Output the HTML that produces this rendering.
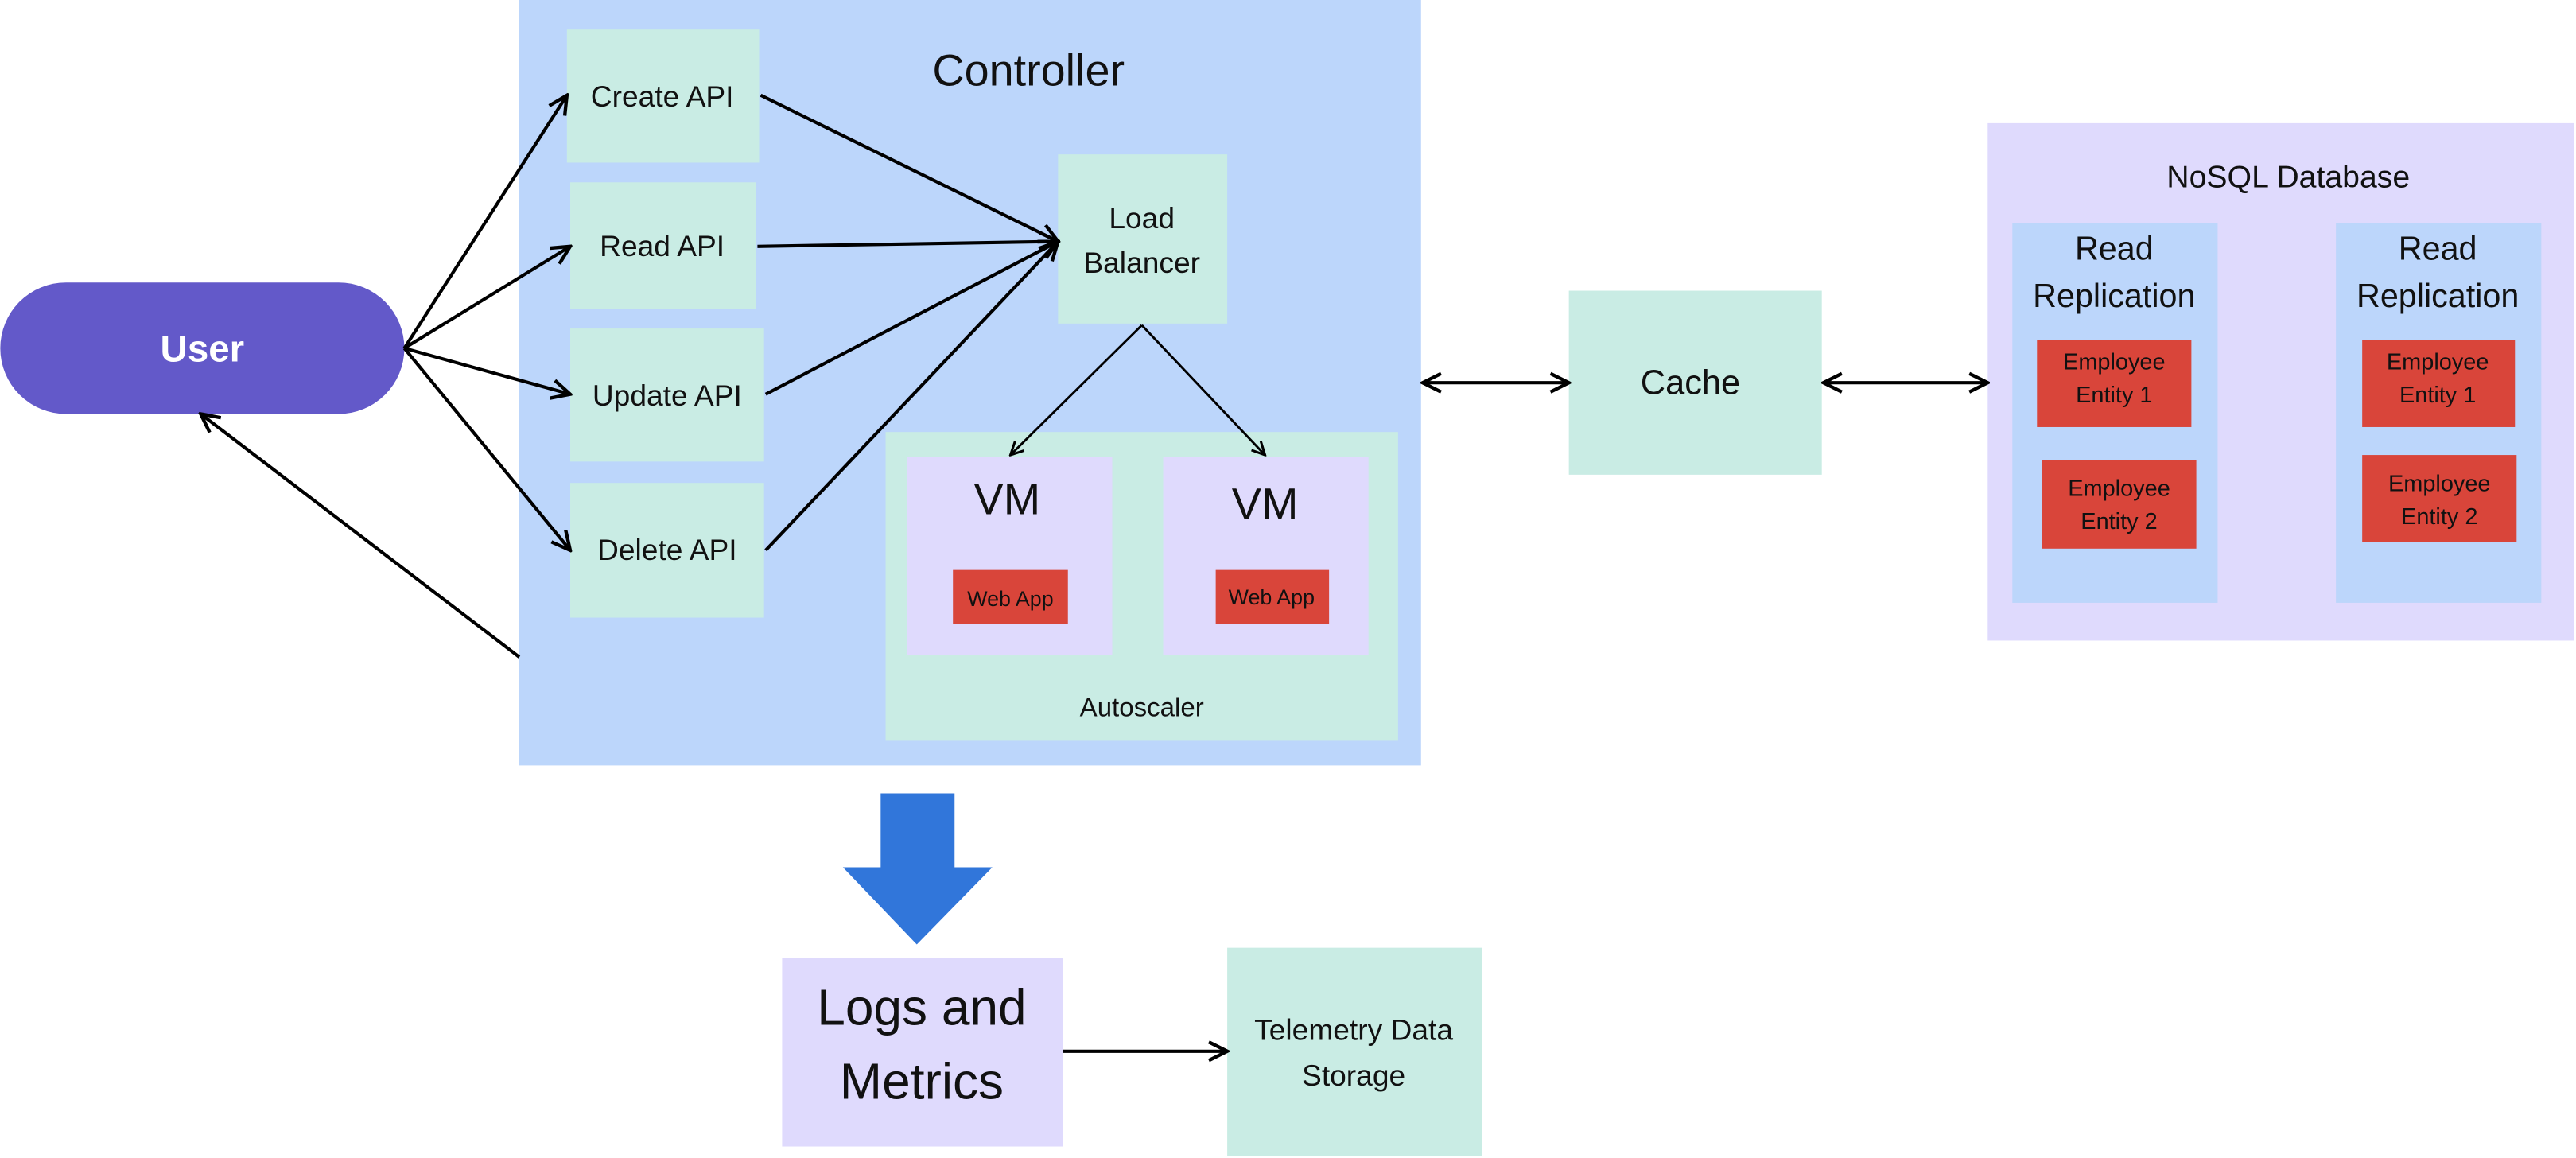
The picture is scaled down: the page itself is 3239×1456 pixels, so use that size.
<!DOCTYPE html>
<html><head><meta charset="utf-8"><style>
html,body{margin:0;padding:0;background:#fff;}
svg{display:block;}
text{font-family:"Liberation Sans",sans-serif;fill:#111;}
</style></head><body>
<svg width="3239" height="1456" viewBox="0 0 1568 705" xmlns="http://www.w3.org/2000/svg">
<defs>
<marker id="a" viewBox="0 0 10 10" refX="9" refY="5" markerWidth="7" markerHeight="7" orient="auto-start-reverse">
<path d="M1,1 L9,5 L1,9" fill="none" stroke="#000" stroke-width="1.5"/>
</marker>
</defs>
<rect width="1568" height="705" fill="#fff"/>
<!-- Controller -->
<rect x="316" y="0" width="549" height="466" fill="#bcd6fb"/>
<text x="626" y="52" font-size="27" text-anchor="middle">Controller</text>
<g fill="#c9ece4">
<rect x="345" y="18" width="117" height="81"/>
<rect x="347" y="111" width="113" height="77"/>
<rect x="347" y="200" width="118" height="81"/>
<rect x="347" y="294" width="118" height="82"/>
<rect x="644" y="94" width="103" height="103"/>
<rect x="539" y="263" width="312" height="188"/>
<rect x="955" y="177" width="154" height="112"/>
<rect x="747" y="577" width="155" height="127"/>
</g>
<g font-size="18" text-anchor="middle">
<text x="403" y="65">Create API</text>
<text x="403" y="156">Read API</text>
<text x="406" y="247">Update API</text>
<text x="406" y="341">Delete API</text>
<text x="695" y="139">Load</text>
<text x="695" y="166">Balancer</text>
<text x="695" y="436" font-size="16">Autoscaler</text>
<text x="1029" y="240" font-size="21">Cache</text>
<text x="824" y="633">Telemetry Data</text>
<text x="824" y="661">Storage</text>
</g>
<g fill="#dfdafd">
<rect x="552" y="278" width="125" height="121"/>
<rect x="708" y="278" width="125" height="121"/>
<rect x="476" y="583" width="171" height="115"/>
<rect x="1210" y="75" width="357" height="315"/>
</g>
<g fill="#bcd6fb">
<rect x="1225" y="136" width="125" height="231"/>
<rect x="1422" y="136" width="125" height="231"/>
</g>
<g fill="#d9453a">
<rect x="580" y="347" width="70" height="33"/>
<rect x="740" y="347" width="69" height="33"/>
<rect x="1240" y="207" width="94" height="53"/>
<rect x="1243" y="280" width="94" height="54"/>
<rect x="1438" y="207" width="93" height="53"/>
<rect x="1438" y="277" width="94" height="53"/>
</g>
<g text-anchor="middle">
<text x="613" y="313" font-size="27">VM</text>
<text x="770" y="316" font-size="27">VM</text>
<text x="615" y="369" font-size="13">Web App</text>
<text x="774" y="368" font-size="13">Web App</text>
<text x="561" y="624" font-size="31">Logs and</text>
<text x="561" y="669" font-size="31">Metrics</text>
<text x="1393" y="114" font-size="19">NoSQL Database</text>
<text x="1287" y="158" font-size="20">Read</text>
<text x="1287" y="187" font-size="20">Replication</text>
<text x="1484" y="158" font-size="20">Read</text>
<text x="1484" y="187" font-size="20">Replication</text>
<text x="1287" y="225" font-size="14">Employee</text>
<text x="1287" y="245" font-size="14">Entity 1</text>
<text x="1290" y="302" font-size="14">Employee</text>
<text x="1290" y="322" font-size="14">Entity 2</text>
<text x="1484" y="225" font-size="14">Employee</text>
<text x="1484" y="245" font-size="14">Entity 1</text>
<text x="1485" y="299" font-size="14">Employee</text>
<text x="1485" y="319" font-size="14">Entity 2</text>
</g>
<!-- User -->
<rect x="0" y="172" width="246" height="80" rx="40" fill="#6359c9"/>
<text x="123" y="220" font-size="23" font-weight="bold" text-anchor="middle" style="fill:#fff">User</text>
<!-- big arrow -->
<path d="M536,483 H581 V528 H604 L558,575 L513,528 H536 Z" fill="#3176da"/>
<!-- connectors -->
<g stroke="#000" stroke-width="2" fill="none" marker-end="url(#a)">
<line x1="246" y1="212" x2="345" y2="58"/>
<line x1="246" y1="212" x2="347" y2="150"/>
<line x1="246" y1="212" x2="347" y2="240"/>
<line x1="246" y1="212" x2="347" y2="335"/>
<line x1="316" y1="400" x2="122" y2="252"/>
<line x1="463" y1="58" x2="644" y2="147"/>
<line x1="461" y1="150" x2="644" y2="147"/>
<line x1="466" y1="240" x2="644" y2="147"/>
<line x1="466" y1="335" x2="644" y2="147"/>
<line x1="647" y1="640" x2="747" y2="640"/>
</g>
<g stroke="#000" stroke-width="1.4" fill="none" marker-end="url(#a)">
<line x1="695" y1="198" x2="615" y2="277"/>
<line x1="695" y1="198" x2="770" y2="277"/>
</g>
<g stroke="#000" stroke-width="2" fill="none" marker-end="url(#a)" marker-start="url(#a)">
<line x1="866" y1="233" x2="955" y2="233"/>
<line x1="1110" y1="233" x2="1210" y2="233"/>
</g>
</svg>
</body></html>
